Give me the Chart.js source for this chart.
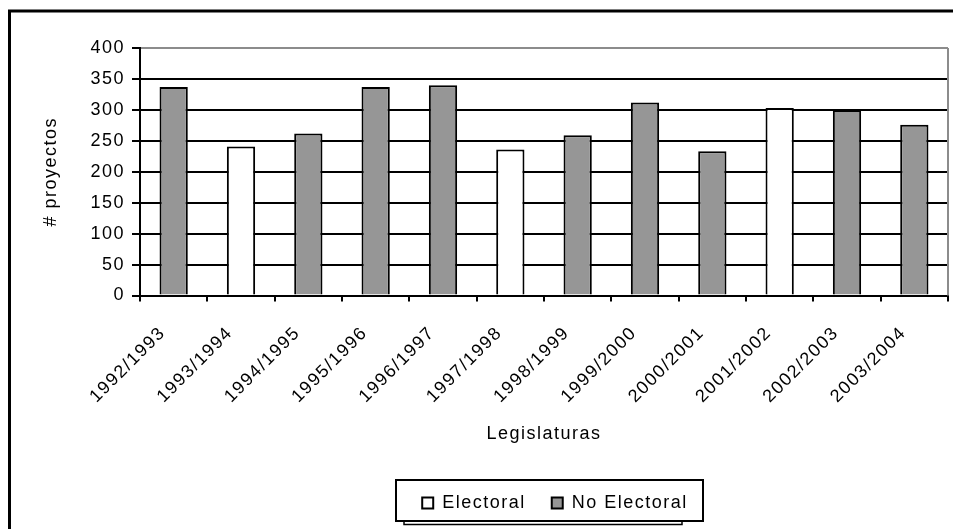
<!DOCTYPE html>
<html>
<head>
<meta charset="utf-8">
<script src="https://cdn.jsdelivr.net/npm/chart.js@4/dist/chart.umd.min.js"></script>
<style>
  html, body { margin: 0; padding: 0; background: #fff; }
  #wrap { width: 957px; height: 529px; }
</style>
</head>
<body>
<div id="wrap"><canvas id="c" width="957" height="529"></canvas></div>
<script>
// Legislative sessions and number of bills per session
const legislaturas = [
  '1992/1993', '1993/1994', '1994/1995', '1995/1996', '1996/1997', '1997/1998',
  '1998/1999', '1999/2000', '2000/2001', '2001/2002', '2002/2003', '2003/2004'
];
const electoral   = [null, 241, null, null, null, 236, null, null, null, 303, null, null];
const noElectoral = [337, null, 262, 337, 340, null, 259, 312, 233, null, 300, 276];
const seriesNames = ['Electoral', 'No Electoral'];
const yTitle = '# proyectos';
const xTitle = 'Legislaturas';

const FAMILY = "'Liberation Sans', Arial, sans-serif";
const FONT_SIZE = 18;
const SPACING = '1.5px';
const GRAY_FILL = '#969696';
const BORDER_GRAY = '#8c8c8c';

// wide, Excel-like lettering for every label on the canvas
const spacing = {
  id: 'spacing',
  beforeUpdate(chart) { chart.ctx.letterSpacing = SPACING; },
  beforeDraw(chart) { chart.ctx.letterSpacing = SPACING; }
};

// white page, outer frame, plot border and legend box
const frame = {
  id: 'frame',
  afterLayout(chart) {
    const lg = chart.legend;
    if (lg) { lg.left += 11; lg.right += 11; }
  },
  beforeDraw(chart) {
    const { ctx, width, height } = chart;
    ctx.save();
    ctx.fillStyle = '#fff';
    ctx.fillRect(0, 0, width, height);
    ctx.strokeStyle = '#000';
    ctx.lineWidth = 3;
    ctx.beginPath();
    ctx.moveTo(9.5, height);
    ctx.lineTo(9.5, 11);
    ctx.lineTo(953, 11);
    ctx.stroke();
    ctx.restore();
  },
  beforeDatasetsDraw(chart) {
    const { ctx, chartArea: a } = chart;
    ctx.save();
    ctx.strokeStyle = BORDER_GRAY;
    ctx.lineWidth = 2;
    ctx.beginPath();
    ctx.moveTo(a.right, a.top);
    ctx.lineTo(a.right, a.bottom);
    ctx.stroke();
    ctx.restore();
  },
  afterDraw(chart) {
    const lg = chart.legend;
    if (!lg || !lg.legendHitBoxes || !lg.legendHitBoxes.length) return;
    const hb = lg.legendHitBoxes;
    const first = hb[0], last = hb[hb.length - 1];
    const cy = first.top + first.height / 2;
    const L = Math.round(first.left - 26), R = Math.round(last.left + last.width + 15);
    const T = Math.round(cy - 23), B = Math.round(cy + 18);
    const ctx = chart.ctx;
    ctx.save();
    ctx.strokeStyle = '#000';
    ctx.lineWidth = 2;
    ctx.strokeRect(L, T, R - L, B - T);
    ctx.lineWidth = 1.5;
    ctx.strokeRect(L + 8, B, R - L - 29, 3.5);
    ctx.restore();
  }
};

new Chart(document.getElementById('c'), {
  type: 'bar',
  data: {
    labels: legislaturas,
    datasets: [
      {
        label: seriesNames[0],
        data: electoral,
        backgroundColor: '#ffffff',
        borderColor: '#000000',
        borderWidth: 2
      },
      {
        label: seriesNames[1],
        data: noElectoral,
        backgroundColor: GRAY_FILL,
        borderColor: '#000000',
        borderWidth: 2
      }
    ]
  },
  options: {
    responsive: false,
    animation: false,
    devicePixelRatio: 1,
    datasets: { bar: { grouped: false, categoryPercentage: 1, barPercentage: 0.42 } },
    layout: { padding: { left: 40, right: 9, top: 48, bottom: 7 } },
    plugins: {
      tooltip: { enabled: false },
      legend: {
        position: 'bottom',
        fullSize: false,
        labels: {
          color: '#000',
          font: { family: FAMILY, size: FONT_SIZE },
          boxWidth: 11,
          boxHeight: 11,
          padding: 26
        }
      }
    },
    scales: {
      x: {
        afterFit(s) { s.height = 172.5; },
        grid: {
          display: true,
          drawOnChartArea: false,
          drawTicks: true,
          tickLength: 6,
          color: '#000',
          lineWidth: 2,
          offset: true
        },
        border: { display: true, color: '#000', width: 2 },
        ticks: {
          autoSkip: false,
          minRotation: 45,
          maxRotation: 45,
          padding: 21,
          labelOffset: -11,
          color: '#000',
          font: { family: FAMILY, size: FONT_SIZE }
        },
        title: {
          display: true,
          text: xTitle,
          color: '#000',
          font: { family: FAMILY, size: FONT_SIZE },
          padding: { top: 0, bottom: 23 }
        }
      },
      y: {
        min: 0,
        max: 400,
        afterFit(s) { s.width = 100; },
        grid: {
          color: (c) => (c.tick && c.tick.value === 400 ? BORDER_GRAY : '#000'),
          tickColor: '#000',
          lineWidth: 2,
          tickLength: 8
        },
        border: { display: true, color: '#000', width: 2 },
        ticks: {
          stepSize: 50,
          padding: 7,
          color: '#000',
          font: { family: FAMILY, size: FONT_SIZE }
        },
        title: {
          display: true,
          text: yTitle,
          color: '#000',
          font: { family: FAMILY, size: FONT_SIZE },
          padding: 0
        }
      }
    }
  },
  plugins: [spacing, frame]
});
</script>
</body>
</html>
